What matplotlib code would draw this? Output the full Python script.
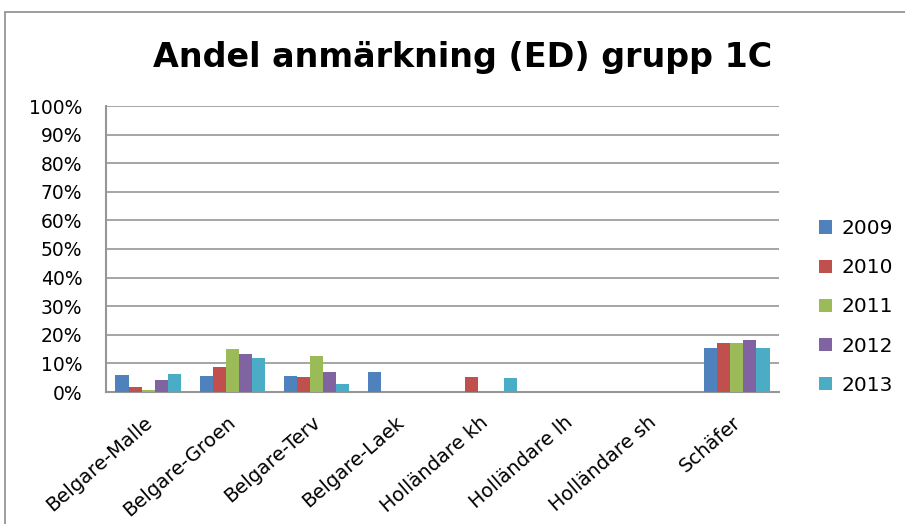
import matplotlib.pyplot as plt
import numpy as np
from matplotlib.patches import Rectangle
from matplotlib.ticker import FuncFormatter, MultipleLocator
from matplotlib.transforms import ScaledTranslation

categories = ["Belgare-Malle", "Belgare-Groen", "Belgare-Terv", "Belgare-Laek",
              "Holländare kh", "Holländare lh", "Holländare sh", "Schäfer"]
years = ["2009", "2010", "2011", "2012", "2013"]

# shares in percent, one list per year
v2009 = [6.1, 5.7, 5.6, 7.1, 0, 0, 0, 15.3]
v2010 = [1.9, 8.9, 5.4, 0, 5.4, 0, 0, 17.0]
v2011 = [0.8, 15.1, 12.7, 0, 0, 0, 0, 17.3]
v2012 = [4.3, 13.2, 6.9, 0, 0, 0, 0, 18.1]
v2013 = [6.4, 11.8, 2.7, 0, 4.8, 0, 0, 15.3]
series = [v2009, v2010, v2011, v2012, v2013]

colors = ["#4F81BD", "#C0504D", "#9BBB59", "#8064A2", "#4BACC6"]

plt.rcParams["font.family"] = ["DejaVu Sans"]

fig = plt.figure(figsize=(9.05, 5.24), dpi=100)
ax = fig.add_axes([106 / 905, 1 - 392 / 524, (779 - 106) / 905, (392 - 106) / 524])

x = np.arange(len(categories))
w = 0.155
for i, (vals, col, yr) in enumerate(zip(series, colors, years)):
    ax.bar(x + (i - 2) * w, vals, width=w, color=col, label=yr, zorder=3)

ax.set_xlim(-0.5, len(categories) - 0.5)
ax.set_ylim(0, 100)
ax.yaxis.set_major_locator(MultipleLocator(10))
ax.yaxis.set_major_formatter(FuncFormatter(lambda v, _: f"{v:.0f}%"))
ax.grid(axis="y", color="#969696", linewidth=1.2, zorder=0)
for s in ["top", "right"]:
    ax.spines[s].set_visible(False)
for s in ["left", "bottom"]:
    ax.spines[s].set_color("#969696")
    ax.spines[s].set_linewidth(1.5)

# category labels: rotated, top-right corner just below each group
ax.set_xticks(x)
ax.set_xticklabels([])
ax.tick_params(axis="x", length=0)
ax.tick_params(axis="y", length=0, labelsize=13.5, pad=17)
lab_tr = ax.get_xaxis_transform() + ScaledTranslation(-5 / 100, -21 / 100, fig.dpi_scale_trans)
for xi, name in zip(x, categories):
    ax.text(xi, 0, name, transform=lab_tr, rotation=41, ha="right", va="top",
            rotation_mode="anchor", fontsize=14)

ax.legend(loc="center left", bbox_to_anchor=(819 / 905, 1 - 307 / 524),
          bbox_transform=fig.transFigure, frameon=False, fontsize=14.5,
          handlelength=0.65, handleheight=0.65, labelspacing=1.0, handletextpad=0.45,
          borderaxespad=0, borderpad=0)

fig.text(463 / 905, 1 - 58 / 524, "Andel anmärkning (ED) grupp 1C", ha="center", va="center",
         fontsize=24, fontweight="bold")

fig.patches.append(Rectangle((5 / 905, -0.01), 1.0, 1 - 12 / 524 + 0.01, transform=fig.transFigure,
                             fill=False, edgecolor="#8c8c8c", linewidth=1.2))

fig.savefig("out.png", dpi=100)
